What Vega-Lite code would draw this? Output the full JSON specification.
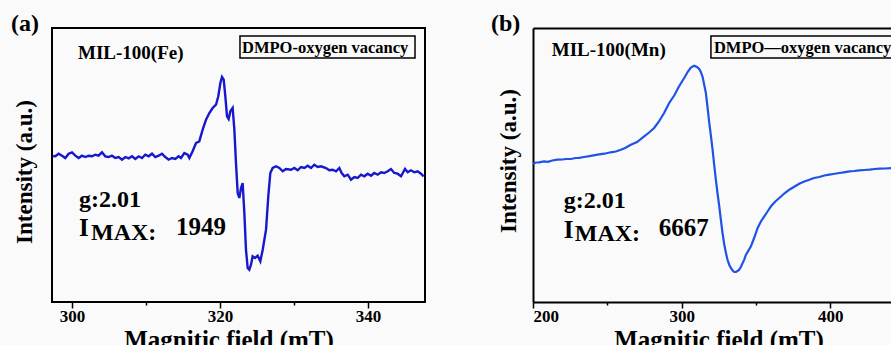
{
  "$schema": "https://vega.github.io/schema/vega-lite/v6.json",
  "background": "#fafafa",
  "padding": {"left": 10, "top": 11, "right": 0, "bottom": -5},
  "spacing": 65,
  "config": {"font": "Liberation Serif", "view": {"stroke": null}},
  "hconcat": [
    {
      "width": 373,
      "height": 274,
      "view": {"stroke": "black", "strokeWidth": 2},
      "title": {"text": "(a)", "anchor": "start", "frame": "group", "fontSize": 24, "fontWeight": "bold", "color": "black", "dx": -41, "dy": 27, "baseline": "alphabetic", "offset": 0},
      "resolve": {"axis": {"x": "independent", "y": "independent"}},
      "layer": [
        {
          "data": {"values": [
            {"field": 297.45, "intensity": 0}, {"field": 297.75, "intensity": -0.3}, {"field": 298.2, "intensity": 2.3}, {"field": 298.65, "intensity": 0.3}, {"field": 299.1, "intensity": -2}, {"field": 299.55, "intensity": 2.3}, {"field": 300.0, "intensity": 3.7}, {"field": 300.45, "intensity": 0.3}, {"field": 300.9, "intensity": -2}, {"field": 301.35, "intensity": 0.3}, {"field": 301.8, "intensity": -1}, {"field": 302.25, "intensity": 0.3}, {"field": 302.7, "intensity": -0.3}, {"field": 303.15, "intensity": 1.3}, {"field": 303.6, "intensity": 0.3}, {"field": 304.05, "intensity": 3.7}, {"field": 304.5, "intensity": -0.3}, {"field": 304.95, "intensity": -1}, {"field": 305.4, "intensity": 0.3}, {"field": 305.85, "intensity": -2}, {"field": 306.31, "intensity": -1}, {"field": 306.76, "intensity": -3.7}, {"field": 307.21, "intensity": -1}, {"field": 307.66, "intensity": -2.3}, {"field": 308.11, "intensity": -0.3}, {"field": 308.56, "intensity": -3}, {"field": 309.01, "intensity": -0.3}, {"field": 309.46, "intensity": -2}, {"field": 309.91, "intensity": 1.3}, {"field": 310.36, "intensity": -0.3}, {"field": 310.81, "intensity": 2.3}, {"field": 311.26, "intensity": -1}, {"field": 311.71, "intensity": 0.3}, {"field": 312.16, "intensity": 2.3}, {"field": 312.61, "intensity": -1}, {"field": 313.06, "intensity": -3.7}, {"field": 313.51, "intensity": -2}, {"field": 313.96, "intensity": -3}, {"field": 314.41, "intensity": -0.3},
            {"field": 314.73, "intensity": -2}, {"field": 315.18, "intensity": 3}, {"field": 315.63, "intensity": 1.3}, {"field": 315.86, "intensity": -2}, {"field": 316.3, "intensity": 4.7}, {"field": 316.76, "intensity": 13}, {"field": 317.2, "intensity": 14.7}, {"field": 317.66, "intensity": 26.3}, {"field": 318.11, "intensity": 36.3}, {"field": 318.56, "intensity": 43}, {"field": 319.01, "intensity": 48}, {"field": 319.46, "intensity": 51.3}, {"field": 319.77, "intensity": 59.7}, {"field": 320.05, "intensity": 73}, {"field": 320.27, "intensity": 79}, {"field": 320.5, "intensity": 76.3}, {"field": 320.72, "intensity": 59.7}, {"field": 320.95, "intensity": 39.7}, {"field": 321.17, "intensity": 37}, {"field": 321.4, "intensity": 44.7}, {"field": 321.71, "intensity": 48}, {"field": 321.94, "intensity": 26.3}, {"field": 322.16, "intensity": -7}, {"field": 322.39, "intensity": -37}, {"field": 322.61, "intensity": -42}, {"field": 322.84, "intensity": -32}, {"field": 323.06, "intensity": -27}, {"field": 323.29, "intensity": -57}, {"field": 323.51, "intensity": -93.7}, {"field": 323.74, "intensity": -112}, {"field": 323.96, "intensity": -113.7}, {"field": 324.19, "intensity": -108.7}, {"field": 324.41, "intensity": -100.3}, {"field": 324.73, "intensity": -102}, {"field": 325.09, "intensity": -99.7}, {"field": 325.45, "intensity": -105.3}, {"field": 325.77, "intensity": -93.7}, {"field": 326.22, "intensity": -73.7}, {"field": 326.53, "intensity": -40}, {"field": 326.8, "intensity": -17},
            {"field": 327.12, "intensity": -12}, {"field": 327.57, "intensity": -10.3}, {"field": 328.02, "intensity": -12}, {"field": 328.47, "intensity": -15.3}, {"field": 328.92, "intensity": -13}, {"field": 329.6, "intensity": -13.7}, {"field": 330.04, "intensity": -12}, {"field": 330.5, "intensity": -14.3}, {"field": 330.95, "intensity": -11}, {"field": 331.4, "intensity": -12}, {"field": 331.85, "intensity": -9.7}, {"field": 332.3, "intensity": -12}, {"field": 332.74, "intensity": -8.7}, {"field": 333.2, "intensity": -11}, {"field": 333.65, "intensity": -10.3}, {"field": 334.32, "intensity": -12}, {"field": 334.77, "intensity": -14.3}, {"field": 335.23, "intensity": -13.7}, {"field": 335.68, "intensity": -15.3}, {"field": 336.13, "intensity": -12}, {"field": 336.44, "intensity": -17}, {"field": 336.8, "intensity": -20.3}, {"field": 337.26, "intensity": -18.7}, {"field": 337.7, "intensity": -23.7}, {"field": 338.15, "intensity": -21}, {"field": 338.6, "intensity": -22}, {"field": 339.05, "intensity": -18.7}, {"field": 339.5, "intensity": -20.3}, {"field": 339.96, "intensity": -17.7}, {"field": 340.4, "intensity": -19.7}, {"field": 340.85, "intensity": -17}, {"field": 341.31, "intensity": -18.7}, {"field": 341.76, "intensity": -16.3}, {"field": 342.2, "intensity": -17}, {"field": 342.66, "intensity": -15.3}, {"field": 343.1, "intensity": -13}, {"field": 343.55, "intensity": -17}, {"field": 344.0, "intensity": -17.7}, {"field": 344.46, "intensity": -20.3}, {"field": 345.0, "intensity": -13}, {"field": 345.36, "intensity": -16.3}, {"field": 345.8, "intensity": -14.3}, {"field": 346.26, "intensity": -16.3}, {"field": 346.7, "intensity": -15.3}, {"field": 347.16, "intensity": -17.7}, {"field": 347.52, "intensity": -20.3}
          ]},
          "mark": {"type": "line", "color": "#1717cc", "strokeWidth": 2.4, "clip": true},
          "encoding": {
            "x": {"field": "field", "type": "quantitative", "scale": {"domain": [297.3, 347.7], "nice": false, "zero": false},
              "axis": {"orient": "bottom", "values": [300, 310, 320, 330, 340], "labelExpr": "datum.value % 20 === 0 ? datum.label : ''", "tickSize": {"condition": {"test": "datum.value % 20 !== 0", "value": 3}, "value": 6}, "tickWidth": 1.5, "tickColor": "black", "domain": false, "grid": false, "labelFontWeight": "bold", "labelFontSize": 17, "labelColor": "black", "labelPadding": 0, "title": "Magnitic field (mT)", "titleFontSize": 25, "titleFontWeight": "bold", "titleColor": "black", "titleX": 176.5, "titleY": 45.5, "titleBaseline": "alphabetic"}},
            "y": {"field": "intensity", "type": "quantitative", "scale": {"domain": [-146, 128], "nice": false, "zero": false},
              "axis": {"orient": "left", "title": "Intensity (a.u.)", "labels": false, "ticks": false, "domain": false, "grid": false, "titleFontSize": 23, "titleFontWeight": "bold", "titleColor": "black", "titleX": -20.5, "titleY": 143.5, "titleAngle": 270, "titleBaseline": "alphabetic", "titleAlign": "center"}}
          }
        },
        {
          "data": {"values": [{"x0": 322.7, "x1": 346.35, "y0": 98, "y1": 120}]},
          "mark": {"type": "rect", "fill": null, "stroke": "black", "strokeWidth": 1.5},
          "encoding": {
            "x": {"field": "x0", "type": "quantitative", "axis": null},
            "x2": {"field": "x1"},
            "y": {"field": "y0", "type": "quantitative", "axis": null},
            "y2": {"field": "y1"}
          }
        },
        {
          "data": {"values": [{"label": "DMPO-oxygen vacancy", "field": 322.97, "intensity": 103}]},
          "mark": {"type": "text", "fontSize": 16.5, "fontWeight": "bold", "color": "black", "align": "left", "baseline": "alphabetic"},
          "encoding": {"x": {"field": "field", "type": "quantitative", "axis": null}, "y": {"field": "intensity", "type": "quantitative", "axis": null}, "text": {"field": "label"}}
        },
        {
          "data": {"values": [{"label": "MIL-100(Fe)", "field": 300.81, "intensity": 97}]},
          "mark": {"type": "text", "fontSize": 19, "fontWeight": "bold", "color": "black", "align": "left", "baseline": "alphabetic"},
          "encoding": {"x": {"field": "field", "type": "quantitative", "axis": null}, "y": {"field": "intensity", "type": "quantitative", "axis": null}, "text": {"field": "label"}}
        },
        {
          "data": {"values": [{"label": "g:2.01", "field": 300.95, "intensity": -51}, {"label": "MAX:", "field": 302.57, "intensity": -83.7}]},
          "mark": {"type": "text", "fontSize": 24, "fontWeight": "bold", "color": "black", "align": "left", "baseline": "alphabetic"},
          "encoding": {"x": {"field": "field", "type": "quantitative", "axis": null}, "y": {"field": "intensity", "type": "quantitative", "axis": null}, "text": {"field": "label"}}
        },
        {
          "data": {"values": [{"label": "I", "field": 300.95, "intensity": -80.3}, {"label": "1949", "field": 314.05, "intensity": -79.3}]},
          "mark": {"type": "text", "fontSize": 25, "fontWeight": "bold", "color": "black", "align": "left", "baseline": "alphabetic"},
          "encoding": {"x": {"field": "field", "type": "quantitative", "axis": null}, "y": {"field": "intensity", "type": "quantitative", "axis": null}, "text": {"field": "label"}}
        }
      ]
    },
    {
      "width": 359,
      "height": 274,
      "title": {"text": "(b)", "anchor": "start", "frame": "group", "fontSize": 24, "fontWeight": "bold", "color": "black", "dx": -42, "dy": 27, "baseline": "alphabetic", "offset": 0},
      "resolve": {"axis": {"x": "independent", "y": "independent"}},
      "layer": [
        {
          "data": {"values": [
            {"field": 200, "intensity": -0.7}, {"field": 202, "intensity": 0.5}, {"field": 204.04, "intensity": 0.7}, {"field": 207.4, "intensity": 1.7}, {"field": 210, "intensity": 1.2}, {"field": 213, "intensity": 2.5}, {"field": 216.4, "intensity": 3.3}, {"field": 220, "intensity": 3.5}, {"field": 222, "intensity": 4}, {"field": 225.4, "intensity": 4}, {"field": 228.7, "intensity": 5}, {"field": 231, "intensity": 5.2}, {"field": 234.3, "intensity": 6}, {"field": 238, "intensity": 6.8}, {"field": 243.4, "intensity": 8.3}, {"field": 248, "intensity": 9.3}, {"field": 252.3, "intensity": 10.7}, {"field": 255.7, "intensity": 11.5}, {"field": 259.1, "intensity": 13.3}, {"field": 262, "intensity": 15}, {"field": 265.8, "intensity": 18.3}, {"field": 270, "intensity": 21}, {"field": 274.8, "intensity": 26.7}, {"field": 278.1, "intensity": 30.5}, {"field": 281.5, "intensity": 35}, {"field": 284.5, "intensity": 41}, {"field": 288.2, "intensity": 50}, {"field": 291.6, "intensity": 60}, {"field": 295.0, "intensity": 67.5}, {"field": 298, "intensity": 76}, {"field": 301.7, "intensity": 85}, {"field": 304, "intensity": 91}, {"field": 306.2, "intensity": 95.5}, {"field": 308.4, "intensity": 97.3}, {"field": 310.3, "intensity": 96}, {"field": 311.8, "intensity": 94}, {"field": 312.9, "intensity": 91}, {"field": 314.1, "intensity": 86}, {"field": 315.2, "intensity": 78}, {"field": 316.3, "intensity": 70}, {"field": 317.4, "intensity": 56}, {"field": 318.5, "intensity": 41}, {"field": 319.7, "intensity": 27}, {"field": 320.8, "intensity": 13.3}, {"field": 321.9, "intensity": -2}, {"field": 323.0, "intensity": -16.7}, {"field": 324.1, "intensity": -30}, {"field": 325.3, "intensity": -43.3}, {"field": 326.4, "intensity": -57}, {"field": 327.5, "intensity": -70}, {"field": 328.6, "intensity": -81}, {"field": 329.8, "intensity": -90}, {"field": 330.9, "intensity": -97}, {"field": 332.0, "intensity": -101.7}, {"field": 333.1, "intensity": -105}, {"field": 334.3, "intensity": -107.5}, {"field": 335.4, "intensity": -109}, {"field": 336.5, "intensity": -109}, {"field": 337.6, "intensity": -108}, {"field": 338.7, "intensity": -106.7}, {"field": 339.8, "intensity": -104}, {"field": 342.1, "intensity": -96.7}, {"field": 343.2, "intensity": -92}, {"field": 346.6, "intensity": -83.3}, {"field": 349, "intensity": -74}, {"field": 351.1, "intensity": -65}, {"field": 353.5, "intensity": -58}, {"field": 355.6, "intensity": -53.3}, {"field": 358, "intensity": -48}, {"field": 360.1, "intensity": -43.3}, {"field": 363, "intensity": -38.5}, {"field": 365.7, "intensity": -35}, {"field": 369, "intensity": -30.5}, {"field": 372.4, "intensity": -26.7}, {"field": 376, "intensity": -23.5}, {"field": 379.1, "intensity": -20.7}, {"field": 382.5, "intensity": -18.5}, {"field": 385.9, "intensity": -16.7}, {"field": 389, "intensity": -15}, {"field": 392.6, "intensity": -14}, {"field": 396, "intensity": -12.5}, {"field": 399.3, "intensity": -11.7}, {"field": 402, "intensity": -11}, {"field": 406.1, "intensity": -10}, {"field": 409, "intensity": -9.3}, {"field": 412.8, "intensity": -8.3}, {"field": 416, "intensity": -8}, {"field": 419.5, "intensity": -7.3}, {"field": 423, "intensity": -7}, {"field": 426.3, "intensity": -6.7}, {"field": 430, "intensity": -6}, {"field": 433, "intensity": -5.7}, {"field": 437, "intensity": -5.5}, {"field": 441.5, "intensity": -5}
          ]},
          "mark": {"type": "line", "color": "#1f52e6", "strokeWidth": 2.2, "clip": true},
          "encoding": {
            "x": {"field": "field", "type": "quantitative", "scale": {"domain": [200, 441.5], "nice": false, "zero": false},
              "axis": {"orient": "bottom", "values": [200, 250, 300, 350, 400], "labelExpr": "datum.value % 100 === 0 ? datum.label : ''", "tickSize": {"condition": {"test": "datum.value % 100 !== 0", "value": 3}, "value": 6}, "tickWidth": 1.5, "tickColor": "black", "domain": true, "domainColor": "black", "domainWidth": 2, "grid": false, "labelFontWeight": "bold", "labelFontSize": 17, "labelColor": "black", "labelPadding": 0, "title": "Magnitic field (mT)", "titleFontSize": 25, "titleFontWeight": "bold", "titleColor": "black", "titleX": 185.5, "titleY": 45.5, "titleBaseline": "alphabetic"}},
            "y": {"field": "intensity", "type": "quantitative", "scale": {"domain": [-139, 135], "nice": false, "zero": false},
              "axis": {"orient": "left", "title": "Intensity (a.u.)", "labels": false, "ticks": false, "domain": true, "domainColor": "black", "domainWidth": 2, "grid": false, "titleFontSize": 23, "titleFontWeight": "bold", "titleColor": "black", "titleX": -18, "titleY": 132.5, "titleAngle": 270, "titleBaseline": "alphabetic", "titleAlign": "center"}}
          }
        },
        {
          "data": {"values": [{"x0": 319.7, "x1": 470, "y0": 105, "y1": 127}]},
          "mark": {"type": "rect", "fill": null, "stroke": "black", "strokeWidth": 1.5, "clip": true},
          "encoding": {
            "x": {"field": "x0", "type": "quantitative", "axis": {"orient": "top", "labels": false, "ticks": false, "title": null, "domain": true, "domainColor": "black", "domainWidth": 2, "grid": false}},
            "x2": {"field": "x1"},
            "y": {"field": "y0", "type": "quantitative", "axis": null},
            "y2": {"field": "y1"}
          }
        },
        {
          "data": {"values": [{"label": "DMPO—oxygen vacancy", "field": 321.7, "intensity": 110}]},
          "mark": {"type": "text", "fontSize": 16.5, "fontWeight": "bold", "color": "black", "align": "left", "baseline": "alphabetic", "clip": true},
          "encoding": {"x": {"field": "field", "type": "quantitative", "axis": null}, "y": {"field": "intensity", "type": "quantitative", "axis": null}, "text": {"field": "label"}}
        },
        {
          "data": {"values": [{"label": "MIL-100(Mn)", "field": 212.6, "intensity": 107.3}]},
          "mark": {"type": "text", "fontSize": 19, "fontWeight": "bold", "color": "black", "align": "left", "baseline": "alphabetic"},
          "encoding": {"x": {"field": "field", "type": "quantitative", "axis": null}, "y": {"field": "intensity", "type": "quantitative", "axis": null}, "text": {"field": "label"}}
        },
        {
          "data": {"values": [{"label": "g:2.01", "field": 220.7, "intensity": -45}, {"label": "MAX:", "field": 228.1, "intensity": -78}]},
          "mark": {"type": "text", "fontSize": 24, "fontWeight": "bold", "color": "black", "align": "left", "baseline": "alphabetic"},
          "encoding": {"x": {"field": "field", "type": "quantitative", "axis": null}, "y": {"field": "intensity", "type": "quantitative", "axis": null}, "text": {"field": "label"}}
        },
        {
          "data": {"values": [{"label": "I", "field": 220.7, "intensity": -75}, {"label": "6667", "field": 284.6, "intensity": -73}]},
          "mark": {"type": "text", "fontSize": 25, "fontWeight": "bold", "color": "black", "align": "left", "baseline": "alphabetic"},
          "encoding": {"x": {"field": "field", "type": "quantitative", "axis": null}, "y": {"field": "intensity", "type": "quantitative", "axis": null}, "text": {"field": "label"}}
        }
      ]
    }
  ]
}
